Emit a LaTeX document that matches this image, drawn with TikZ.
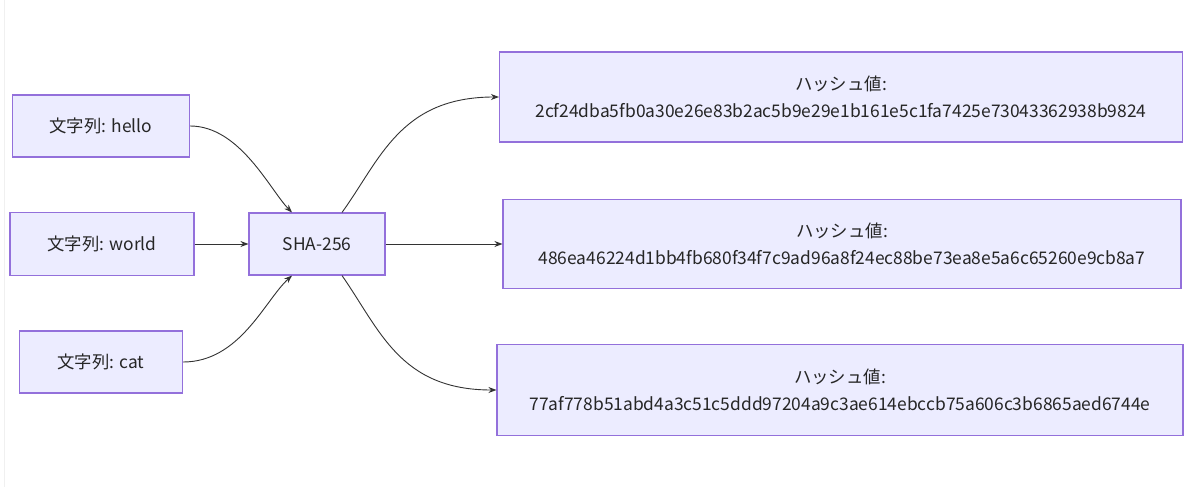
\documentclass[tikz,border=0pt]{standalone}
\usepackage{fontspec}
\setmainfont{Noto Sans CJK JP}
\usetikzlibrary{arrows.meta}
\definecolor{boxfill}{HTML}{ECECFF}
\definecolor{boxline}{HTML}{9370DB}
\definecolor{edge}{HTML}{333333}
\tikzset{
  box/.style={draw=boxline, fill=boxfill, line width=1.1pt, inner sep=0pt, align=center,
    text=black!85, font=\fontsize{17.4}{27}\selectfont},
  link/.style={draw=edge, line width=0.9pt, -{Stealth[length=8pt,width=6pt]}}
}
\begin{document}
\begin{tikzpicture}[x=1pt,y=-1pt]
\useasboundingbox[fill=white] (0,0) rectangle (1200,487);
\draw[black!6, line width=1pt] (4,0) -- (4,487);
\node[box, minimum width=177pt, minimum height=62pt] (hello) at (101,126) {文字列: hello};
\node[box, minimum width=184pt, minimum height=63pt] (world) at (102,244) {文字列: world};
\node[box, minimum width=163pt, minimum height=62pt] (cat) at (101,362) {文字列: cat};
\node[box, minimum width=136pt, minimum height=62pt] (sha) at (317,244) {SHA-256};
\node[box, minimum width=683pt, minimum height=90pt] (h1) at (841,97) {ハッシュ値:\\2cf24dba5fb0a30e26e83b2ac5b9e29e1b161e5c1fa7425e73043362938b9824};
\node[box, minimum width=678pt, minimum height=89pt] (h2) at (842,244) {ハッシュ値:\\486ea46224d1bb4fb680f34f7c9ad96a8f24ec88be73ea8e5a6c65260e9cb8a7};
\node[box, minimum width=686pt, minimum height=91pt] (h3) at (840,390) {ハッシュ値:\\77af778b51abd4a3c51c5ddd97204a9c3ae614ebccb75a606c3b6865aed6744e};
\coordinate (shatopin) at ([xshift=-25pt]sha.north);
\coordinate (shabotin) at ([xshift=-25pt]sha.south);
\coordinate (shatopout) at ([xshift=25pt]sha.north);
\coordinate (shabotout) at ([xshift=25pt]sha.south);
\draw[link] (hello.east) .. controls (240,126) and (270,190) .. (shatopin);
\draw[link] (world.east) -- (sha.west);
\draw[link] (cat.east) .. controls (240,362) and (265,300) .. (shabotin);
\draw[link] (shatopout) .. controls (380,160) and (400,97) .. (h1.west);
\draw[link] (sha.east) -- (h2.west);
\draw[link] (shabotout) .. controls (380,330) and (400,390) .. (h3.west);
\end{tikzpicture}
\end{document}
